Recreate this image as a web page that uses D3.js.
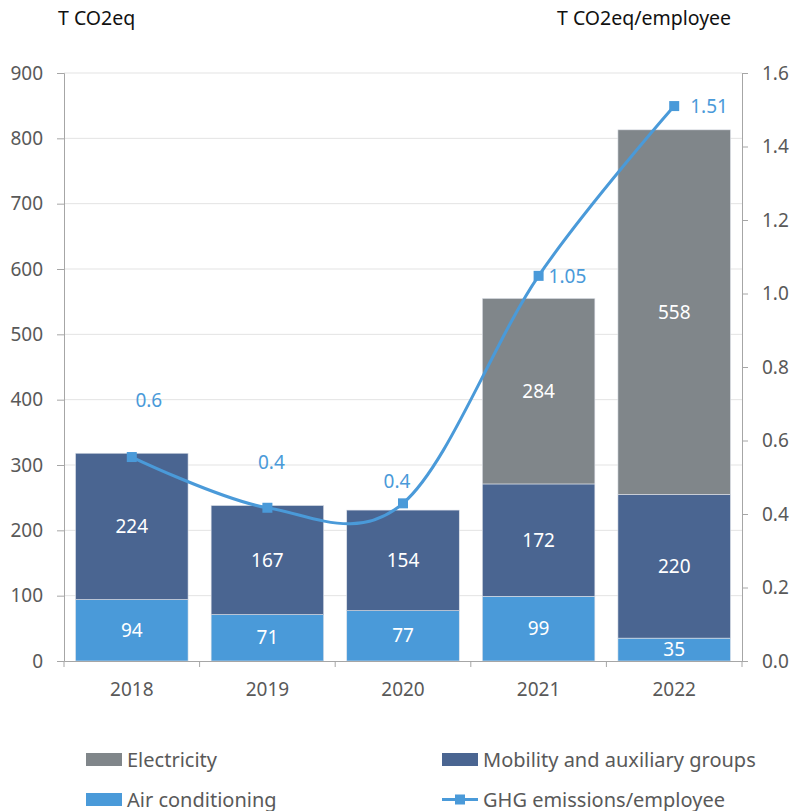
<!DOCTYPE html>
<html>
<head>
<meta charset="utf-8">
<script src="https://cdn.jsdelivr.net/npm/d3@7"></script>
<style>
  html,body{margin:0;padding:0;background:#fff;}
  svg text{font-family:"Noto Sans","Open Sans",sans-serif;}
</style>
</head>
<body>
<svg id="chart" width="791" height="811"></svg>
<script>
// data
const years = ['2018','2019','2020','2021','2022'];
const airCond = [94, 71, 77, 99, 35];
const mobility = [224, 167, 154, 172, 220];
const electricity = [0, 0, 0, 284, 558];
const perEmployee = [0.555, 0.417, 0.429, 1.048, 1.51];
const perEmployeeLabels = ['0.6','0.4','0.4','1.05','1.51'];
const leftTicks = [0,100,200,300,400,500,600,700,800,900];
const rightTicks = [0,0.2,0.4,0.6,0.8,1.0,1.2,1.4,1.6];

const C = {elec:'#80868a', mob:'#4a6591', air:'#4a9ad9', line:'#4a9ad9', txt:'#595959', axis:'#a6a6a6', grid:'#e3e3e3'};
const m = {l:64, r:791-742, t:73, b:811-661};
const W = 791, H = 811;

const svg = d3.select('#chart');
const x = d3.scaleBand().domain(years).range([m.l, W-m.r]).paddingInner(0.17).paddingOuter(0.085);
const yL = d3.scaleLinear().domain([0,900]).range([H-m.b, m.t]);
const yR = d3.scaleLinear().domain([0,1.6]).range([H-m.b, m.t]);

// grid
svg.append('g').selectAll('line').data(leftTicks.slice(1)).join('line')
  .attr('x1',m.l).attr('x2',W-m.r).attr('y1',d=>yL(d)).attr('y2',d=>yL(d))
  .attr('stroke',C.grid).attr('stroke-width',1);

// stacked bars
const rows = years.map((y,i)=>({year:y, air:airCond[i], mob:mobility[i], elec:electricity[i]}));
const keys = ['air','mob','elec'];
const stack = d3.stack().keys(keys)(rows);
const colors = {air:C.air, mob:C.mob, elec:C.elec};
stack.forEach(layer=>{
  const g = svg.append('g');
  layer.forEach(d=>{
    const v = d[1]-d[0];
    if(v<=0) return;
    g.append('rect').attr('x',x(d.data.year)).attr('width',x.bandwidth())
      .attr('y',yL(d[1])).attr('height',yL(d[0])-yL(d[1]))
      .attr('fill',colors[layer.key]).attr('stroke','#dfe3ea').attr('stroke-width',0.6);
    g.append('text').attr('x',x(d.data.year)+x.bandwidth()/2).attr('y',(yL(d[0])+yL(d[1]))/2)
      .attr('dy','0.35em').attr('text-anchor','middle').attr('fill','#fff').attr('font-size',19)
      .text(v);
  });
});

// axes
const axL = svg.append('g').attr('transform',`translate(${m.l},0)`)
  .call(d3.axisLeft(yL).tickValues(leftTicks).tickSize(7).tickPadding(14));
const axR = svg.append('g').attr('transform',`translate(${W-m.r},0)`)
  .call(d3.axisRight(yR).tickValues(rightTicks).tickSize(6).tickPadding(14).tickFormat(d3.format('.1f')));
const axB = svg.append('g').attr('transform',`translate(0,${H-m.b})`)
  .call(d3.axisBottom(x).tickSize(0).tickPadding(22));
[axL,axR,axB].forEach(a=>{
  a.select('.domain').attr('stroke',C.axis);
  a.selectAll('.tick line').attr('stroke',C.axis);
  a.selectAll('text').attr('fill',C.txt).attr('font-size',19);
});
// category separator ticks under the x axis
const edges = years.map(y=>x(y)-x.step()*x.paddingInner()/2);
edges[0]=m.l; edges.push(W-m.r);
svg.append('g').selectAll('line').data(edges).join('line')
  .attr('x1',d=>d).attr('x2',d=>d).attr('y1',H-m.b).attr('y2',H-m.b+6).attr('stroke',C.axis);

// titles
svg.append('text').attr('x',58).attr('y',25).attr('fill','#111').attr('font-size',19.5).text('T CO2eq');
svg.append('text').attr('x',557).attr('y',25).attr('fill','#111').attr('font-size',19.5).text('T CO2eq/employee');

// line
const pts = years.map((y,i)=>[x(y)+x.bandwidth()/2, yR(perEmployee[i])]);
svg.append('path').datum(pts)
  .attr('d',d3.line().curve(d3.curveCardinal.tension(0)))
  .attr('fill','none').attr('stroke',C.line).attr('stroke-width',3);
svg.append('g').selectAll('rect').data(pts).join('rect')
  .attr('x',d=>d[0]-5).attr('y',d=>d[1]-5).attr('width',10).attr('height',10).attr('fill',C.line);
const lblOff = [[17,-57],[4,-45],[-6,-22],[10,0],[16,0]];
const lblAnchor = ['middle','middle','middle','start','start'];
svg.append('g').selectAll('text').data(pts).join('text')
  .attr('x',(d,i)=>d[0]+lblOff[i][0]).attr('y',(d,i)=>d[1]+lblOff[i][1])
  .attr('dy','0.35em').attr('text-anchor',(d,i)=>lblAnchor[i])
  .attr('fill',C.line).attr('font-size',19).text((d,i)=>perEmployeeLabels[i]);

// legend
const legend = [
  {label:'Electricity', color:C.elec, type:'box', x:86, y:759.5},
  {label:'Mobility and auxiliary groups', color:C.mob, type:'box', x:442, y:759.5},
  {label:'Air conditioning', color:C.air, type:'box', x:86, y:799.5},
  {label:'GHG emissions/employee', color:C.line, type:'line', x:442, y:799.5},
];
const lg = svg.append('g');
legend.forEach(d=>{
  const g = lg.append('g').attr('transform',`translate(${d.x},${d.y})`);
  if(d.type==='box'){
    g.append('rect').attr('x',0).attr('y',-6.5).attr('width',36).attr('height',13).attr('fill',d.color);
  } else {
    g.append('line').attr('x1',0).attr('x2',36).attr('y1',0).attr('y2',0).attr('stroke',d.color).attr('stroke-width',3);
    g.append('rect').attr('x',13).attr('y',-5).attr('width',10).attr('height',10).attr('fill',d.color);
  }
  g.append('text').attr('x',41).attr('dy','0.35em').attr('fill',C.txt).attr('font-size',20).text(d.label);
});
</script>
</body>
</html>
